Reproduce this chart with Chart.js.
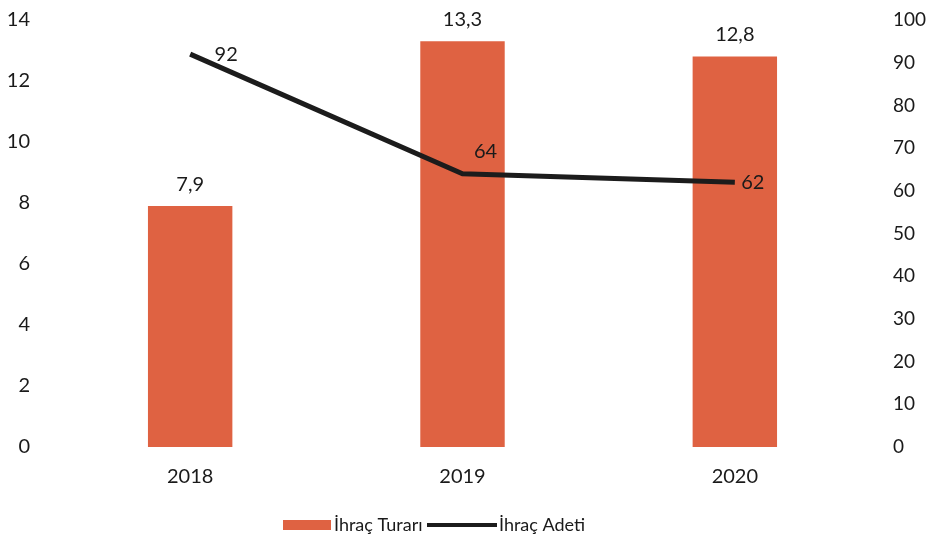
<!DOCTYPE html>
<html>
<head>
<meta charset="utf-8">
<script src="https://cdn.jsdelivr.net/npm/chart.js@4/dist/chart.umd.min.js"></script>
<style>
  html, body { margin: 0; padding: 0; background: #fff; overflow: hidden; }
  #wrap { width: 932px; height: 546px; overflow: hidden; }
  #ihracat_chart { display: block; margin-top: -8px; }
</style>
</head>
<body>
<div id="wrap"><canvas id="ihracat_chart" width="932" height="554"></canvas></div>
<script>
const years = ['2018', '2019', '2020'];
const tutar = [7.9, 13.3, 12.8];     // İhraç Turarı (left axis)
const adet = [92, 64, 62];           // İhraç Adeti (right axis)
const leftTicks = [0, 2, 4, 6, 8, 10, 12, 14];
const rightTicks = [0, 10, 20, 30, 40, 50, 60, 70, 80, 90, 100];

const BAR_COLOR = '#df6242';
const LINE_COLOR = '#1c1c1c';
const FONT = 'Lato, "Open Sans", sans-serif';

function fmt(v) {
  return String(v).replace('.', ',');
}

// value labels above the bars and next to the line points
const valueLabels = {
  id: 'valueLabels',
  afterDatasetsDraw(chart) {
    const ctx = chart.ctx;
    ctx.save();
    ctx.font = '20px ' + FONT;
    ctx.fillStyle = '#1a1a1a';
    ctx.textAlign = 'center';
    ctx.textBaseline = 'middle';
    chart.getDatasetMeta(1).data.forEach(function (bar, i) {
      ctx.fillText(fmt(tutar[i]), bar.x, bar.y - 22);
    });
    const offs = [[36, 0], [23, -22], [18, 0]];
    chart.getDatasetMeta(0).data.forEach(function (pt, i) {
      ctx.fillText(fmt(adet[i]), pt.x + offs[i][0], pt.y + offs[i][1]);
    });
    ctx.restore();
  }
};

// legend drawn under the axis
const bottomLegend = {
  id: 'bottomLegend',
  afterDraw(chart) {
    const ctx = chart.ctx;
    const y = 533;
    ctx.save();
    ctx.font = '18px ' + FONT;
    ctx.textBaseline = 'middle';
    ctx.textAlign = 'left';
    ctx.fillStyle = BAR_COLOR;
    ctx.fillRect(283, y - 5, 48, 10);
    ctx.fillStyle = '#1a1a1a';
    ctx.fillText('İhraç Turarı', 334, y);
    ctx.strokeStyle = LINE_COLOR;
    ctx.lineWidth = 4;
    ctx.beginPath();
    ctx.moveTo(427, y);
    ctx.lineTo(497, y);
    ctx.stroke();
    ctx.fillText('İhraç Adeti', 499, y);
    ctx.restore();
  }
};

new Chart(document.getElementById('ihracat_chart'), {
  data: {
    labels: years,
    datasets: [
      {
        type: 'line',
        label: 'İhraç Adeti',
        data: adet,
        yAxisID: 'y2',
        borderColor: LINE_COLOR,
        borderWidth: 5,
        pointRadius: 0,
        tension: 0,
        order: 0
      },
      {
        type: 'bar',
        label: 'İhraç Turarı',
        data: tutar,
        yAxisID: 'y',
        backgroundColor: BAR_COLOR,
        barPercentage: 0.31,
        categoryPercentage: 1,
        order: 1
      }
    ]
  },
  options: {
    responsive: false,
    animation: false,
    layout: { padding: { top: 0, bottom: 47, left: 0, right: 0 } },
    plugins: {
      legend: { display: false },
      tooltip: { enabled: false }
    },
    scales: {
      x: {
        grid: { display: false },
        border: { display: false },
        ticks: { color: '#1a1a1a', font: { family: FONT, size: 20 }, padding: 10 }
      },
      y: {
        position: 'left',
        min: 0,
        max: 14,
        afterBuildTicks(axis) { axis.ticks = leftTicks.map(v => ({ value: v })); },
        afterFit(axis) { axis.width = 54; },
        grid: { display: false },
        border: { display: false },
        ticks: { color: '#1a1a1a', font: { family: FONT, size: 20 }, padding: 16 }
      },
      y2: {
        position: 'right',
        min: 0,
        max: 100,
        afterBuildTicks(axis) { axis.ticks = rightTicks.map(v => ({ value: v })); },
        afterFit(axis) { axis.width = 61; },
        grid: { display: false },
        border: { display: false },
        ticks: { color: '#1a1a1a', font: { family: FONT, size: 19 }, padding: 14 }
      }
    }
  },
  plugins: [valueLabels, bottomLegend]
});
</script>
</body>
</html>
